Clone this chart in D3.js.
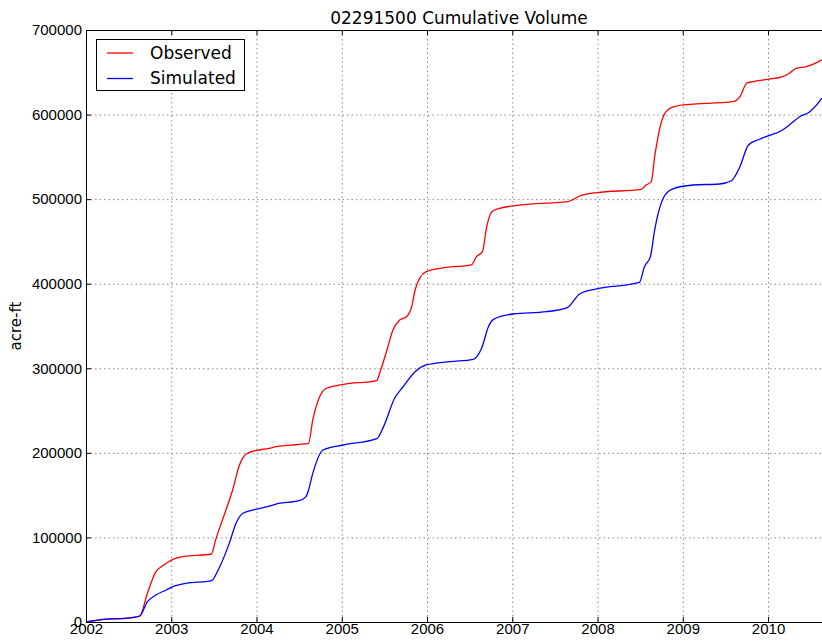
<!DOCTYPE html>
<html>
<head>
<meta charset="utf-8">
<script src="https://cdn.jsdelivr.net/npm/d3@7"></script>
<style>
  body { margin: 0; background: #fff; }
  svg { display: block; font-family: "DejaVu Sans", sans-serif; }
</style>
</head>
<body>
<svg id="chart" width="822" height="643"></svg>
<script>
// decimal year / acre-ft
const obsYears = [2002.0, 2002.23, 2002.47, 2002.63, 2002.72, 2002.82, 2002.90, 2003.02, 2003.13, 2003.47,
  2003.52, 2003.60, 2003.72, 2003.80, 2003.88, 2003.99, 2004.15, 2004.23, 2004.56, 2004.61,
  2004.66, 2004.74, 2004.82, 2005.02, 2005.41, 2005.45, 2005.53, 2005.60, 2005.68, 2005.76,
  2005.82, 2005.86, 2005.92, 2005.99, 2006.15, 2006.52, 2006.58, 2006.65, 2006.70, 2006.76,
  2006.85, 2007.20, 2007.65, 2007.71, 2007.79, 2007.99, 2008.51, 2008.57, 2008.63, 2008.67,
  2008.77, 2008.85, 2009.0, 2009.59, 2009.67, 2009.75, 2009.82, 2010.0, 2010.17, 2010.25,
  2010.33, 2010.45, 2010.57, 2010.63]
const obsVol = [0, 3000, 4500, 7000, 34000, 59500, 66600, 74100, 77200, 80400,
  97000, 120600, 156100, 185600, 198700, 202600, 205400, 207300, 210500, 211300,
  238900, 266400, 276400, 281000, 285400, 296000, 321600, 345300, 357100, 361000,
  372800, 392600, 407600, 414200, 418200, 422200, 432000, 437900, 467400, 485200,
  489200, 494000, 497000, 499500, 503700, 507700, 511600, 516700, 520600, 550200,
  597500, 607400, 611400, 615300, 621200, 637000, 638900, 641700, 644800, 648800,
  654700, 656700, 661400, 664600]

const simYears = [2002.0, 2002.23, 2002.47, 2002.63, 2002.72, 2002.82, 2002.94, 2003.04, 2003.17, 2003.47,
  2003.56, 2003.68, 2003.76, 2003.84, 2003.99, 2004.13, 2004.23, 2004.50, 2004.58, 2004.61,
  2004.66, 2004.78, 2005.02, 2005.41, 2005.49, 2005.62, 2005.72, 2005.86, 2005.99, 2006.27,
  2006.54, 2006.64, 2006.72, 2006.78, 2007.01, 2007.40, 2007.65, 2007.79, 2007.99, 2008.49,
  2008.55, 2008.62, 2008.67, 2008.77, 2008.87, 2009.12, 2009.43, 2009.57, 2009.67, 2009.77,
  2009.90, 2010.0, 2010.17, 2010.25, 2010.37, 2010.49, 2010.57, 2010.63]
const simVol = [0, 3500, 4400, 7100, 24000, 31900, 37800, 42600, 45700, 48500,
  63500, 93000, 116700, 128500, 133300, 136300, 139500, 143400, 148200, 156100,
  175800, 203400, 209300, 216800, 231000, 264500, 278200, 296000, 303900, 307800,
  310600, 323600, 349200, 357900, 364200, 366900, 372100, 387900, 393800, 401500,
  420100, 432000, 463600, 501000, 511600, 516700, 517900, 521800, 538400, 564100,
  570800, 574700, 581800, 587700, 597500, 603400, 611400, 619300]

const yearTicks = [2002, 2003, 2004, 2005, 2006, 2007, 2008, 2009, 2010]
const volTicks = [0, 100000, 200000, 300000, 400000, 500000, 600000, 700000]
const seriesNames = ['Observed', 'Simulated']
const seriesColors = ['#ff0000', '#0000ff']

const svg = d3.select('#chart')
const pLeft = 86, pTop = 30, pBottom = 622, pRight = 832

const x = d3.scaleLinear().domain([2002, 2010.75]).range([pLeft, pRight])
const y = d3.scaleLinear().domain([0, 700000]).range([pBottom, pTop])

svg.append('defs').append('clipPath').attr('id', 'plot')
  .append('rect').attr('x', pLeft).attr('y', pTop)
  .attr('width', pRight - pLeft).attr('height', pBottom - pTop)

// grid
const grid = svg.append('g').attr('stroke', '#888').attr('stroke-width', 1)
  .attr('stroke-dasharray', '1.5,3')
grid.selectAll('.vg').data(yearTicks.slice(1)).join('line')
  .attr('x1', d => x(d) + 0.5).attr('x2', d => x(d) + 0.5)
  .attr('y1', pTop).attr('y2', pBottom)
grid.selectAll('.hg').data(volTicks.slice(1, -1)).join('line')
  .attr('x1', pLeft).attr('x2', pRight)
  .attr('y1', d => y(d) + 0.5).attr('y2', d => y(d) + 0.5)

// lines
const line = d3.line().x(d => x(d[0])).y(d => y(d[1])).curve(d3.curveMonotoneX)
const series = [d3.zip(obsYears, obsVol), d3.zip(simYears, simVol)]
svg.append('g').attr('clip-path', 'url(#plot)')
  .selectAll('path').data(series).join('path')
  .attr('d', line)
  .attr('fill', 'none')
  .attr('stroke', (d, i) => seriesColors[i])
  .attr('stroke-width', 1.3)

// axes (inward ticks, matplotlib classic look)
const xAxis = svg.append('g').attr('transform', `translate(0,${pBottom})`)
  .call(d3.axisBottom(x).tickValues(yearTicks).tickFormat(d3.format('d')).tickSize(-5).tickPadding(3))
xAxis.select('.domain').remove()
xAxis.selectAll('text').attr('font-size', 15).attr('fill', '#000').attr('dy', '0.6em')

const xTop = svg.append('g').attr('transform', `translate(0,${pTop})`)
  .call(d3.axisTop(x).tickValues(yearTicks).tickFormat('').tickSize(-5))
xTop.select('.domain').remove()

const yAxis = svg.append('g').attr('transform', `translate(${pLeft},0)`)
  .call(d3.axisLeft(y).tickValues(volTicks).tickFormat(d3.format('d')).tickSize(-5).tickPadding(4))
yAxis.select('.domain').remove()
yAxis.selectAll('text').attr('font-size', 15).attr('fill', '#000')
svg.selectAll('.tick line').attr('stroke', '#000')

// frame
svg.append('rect').attr('x', pLeft + 0.5).attr('y', pTop + 0.5)
  .attr('width', pRight - pLeft).attr('height', pBottom - pTop)
  .attr('fill', 'none').attr('stroke', '#000').attr('stroke-width', 1)

// title and label
svg.append('text').attr('x', (pLeft + pRight) / 2).attr('y', 24)
  .attr('text-anchor', 'middle').attr('font-size', 17)
  .text('02291500 Cumulative Volume')
svg.append('text').attr('transform', `translate(21,${(pTop + pBottom) / 2}) rotate(-90)`)
  .attr('text-anchor', 'middle').attr('font-size', 15)
  .text('acre-ft')

// legend
const lg = svg.append('g')
lg.append('rect').attr('x', 96.5).attr('y', 39.5).attr('width', 148).attr('height', 51)
  .attr('fill', '#fff').attr('stroke', '#000').attr('stroke-width', 1)
const items = lg.selectAll('g.item').data(seriesNames).join('g')
  .attr('transform', (d, i) => `translate(0,${53 + i * 25.5})`)
items.append('line').attr('x1', 107).attr('x2', 133)
  .attr('stroke', (d, i) => seriesColors[i]).attr('stroke-width', 1.3)
items.append('text').attr('x', 150).attr('dy', '0.35em')
  .attr('font-size', 17).text(d => d)
</script>
</body>
</html>
